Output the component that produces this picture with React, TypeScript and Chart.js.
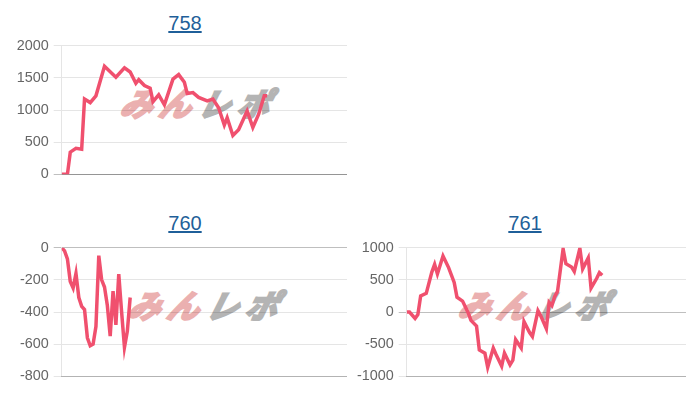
import React, { useEffect, useRef } from "react";
import { Chart, registerables } from "chart.js";

Chart.register(...registerables);

// ---- data ----
const titles = ["758", "760", "761"];

const games758 = [0, 2, 3, 5, 7, 8, 10, 12, 15, 19, 22, 24, 26, 27, 29, 31, 32, 34, 36, 39, 41, 43, 44, 46, 48, 51, 53, 55, 57, 58, 60, 62, 65, 67, 69, 71, 72];
const diff758 = [0, 0, 345, 405, 390, 1170, 1115, 1220, 1680, 1510, 1655, 1590, 1415, 1470, 1380, 1340, 1130, 1235, 1080, 1480, 1550, 1430, 1255, 1270, 1195, 1140, 1170, 1035, 765, 880, 605, 695, 985, 730, 930, 1220, 1220];

const games760 = [0, 1, 2, 3, 4, 5, 6, 7, 8, 9, 10, 11, 12, 13, 14, 15, 16, 17, 18, 19, 20, 21, 22, 23, 24];
const diff760 = [0, -20, -70, -210, -250, -160, -310, -365, -385, -560, -610, -600, -490, -50, -200, -245, -360, -550, -270, -480, -165, -400, -620, -520, -310];

const games761 = [0, 1, 3, 4, 5, 7, 9, 10, 11, 13, 15, 17, 18, 20, 22, 23, 25, 26, 28, 29, 31, 32, 34, 35, 37, 38, 39, 41, 42, 44, 45, 47, 48, 50, 51, 52, 53, 54, 56, 57, 59, 60, 62, 63, 65, 66, 68, 69, 70];
const diff761 = [0, 0, -100, -40, 250, 290, 620, 740, 590, 870, 690, 460, 230, 170, -10, -130, -220, -590, -640, -860, -560, -660, -840, -640, -820, -750, -430, -560, -150, -320, -380, 20, -60, -260, 150, 100, 240, 320, 980, 750, 700, 630, 990, 670, 840, 370, 520, 610, 570];

const yMins = [0, -800, -1000];
const yMaxs = [2000, 0, 1000];
const ySteps = [500, 200, 500];
const xMax = 100;

const FONT = "'Liberation Sans', Arial, Helvetica, sans-serif";
const LINE = "rgb(240, 80, 110)";

type Layout = {
  cellLeft: number;
  top: number;
  canvasLeft: number;
  canvasTop: number;
  canvasW: number;
  canvasH: number;
  axisW: number;
  wmLeft: number;
  wmTop: number;
};

function MiniChart(props: {
  title: string;
  xs: number[];
  ys: number[];
  yMin: number;
  yMax: number;
  step: number;
  lay: Layout;
}) {
  const ref = useRef<HTMLCanvasElement | null>(null);
  const { title, xs, ys, yMin, yMax, step, lay } = props;

  useEffect(() => {
    if (!ref.current) return;
    const chart = new Chart(ref.current, {
      type: "line",
      data: {
        datasets: [
          {
            data: xs.map((x, i) => ({ x, y: ys[i] })),
            borderColor: LINE,
            backgroundColor: LINE,
            borderWidth: 3.5,
            pointRadius: 0,
            tension: 0,
            fill: false,
          },
        ],
      },
      options: {
        animation: false,
        responsive: false,
        maintainAspectRatio: false,
        layout: { padding: 0 },
        plugins: { legend: { display: false }, tooltip: { enabled: false } },
        scales: {
          x: {
            type: "linear",
            min: 0,
            max: xMax,
            ticks: { display: false },
            grid: { display: false, drawTicks: false },
            border: { display: true, color: "rgba(0,0,0,0.22)" },
          },
          y: {
            min: yMin,
            max: yMax,
            ticks: {
              stepSize: step,
              color: "#666",
              padding: 5,
              font: { family: FONT, size: 14.4 },
              callback: (v: any) => String(v),
            },
            grid: {
              color: (ctx: any) =>
                ctx.tick && ctx.tick.value === 0 ? "rgba(0,0,0,0.25)" : "rgba(0,0,0,0.1)",
              tickLength: 8,
            },
            border: { color: "rgba(0,0,0,0.1)" },
            afterFit: (s: any) => {
              s.width = lay.axisW;
            },
          },
        },
      },
    } as any);
    return () => chart.destroy();
  }, []);

  return (
    <>
      <div
        style={{
          position: "absolute",
          left: lay.cellLeft,
          top: lay.top,
          width: 340,
          textAlign: "center",
          fontFamily: FONT,
          fontSize: 20,
        }}
      >
        <a href="#" style={{ color: "#1f5f99", textDecoration: "underline" }}>
          {title}
        </a>
      </div>
      <div
        style={{
          position: "absolute",
          left: lay.wmLeft,
          top: lay.wmTop,
          fontFamily: "'Noto Sans CJK JP', sans-serif",
          fontWeight: 700,
          fontStyle: "italic",
          fontSize: 32,
          letterSpacing: 7,
          lineHeight: "32px",
          whiteSpace: "nowrap",
          transform: "skewX(-14deg)",
        }}
      >
        <span style={{ color: "#ebb0b0", WebkitTextStroke: "2.5px #ebb0b0" } as any}>みん</span>
        <span style={{ color: "#b4b4b4", WebkitTextStroke: "2.5px #b4b4b4" } as any}>レポ</span>
      </div>
      <canvas
        ref={ref}
        width={lay.canvasW}
        height={lay.canvasH}
        style={{
          position: "absolute",
          left: lay.canvasLeft,
          top: lay.canvasTop,
          width: lay.canvasW,
          height: lay.canvasH,
        }}
      />
    </>
  );
}

const layouts: Layout[] = [
  { cellLeft: 15, top: 12, canvasLeft: 15, canvasTop: 32, canvasW: 332, canvasH: 156, axisW: 46.7, wmLeft: 122, wmTop: 86 },
  { cellLeft: 15, top: 212, canvasLeft: 15, canvasTop: 234, canvasW: 332, canvasH: 156, axisW: 46.7, wmLeft: 130, wmTop: 288 },
  { cellLeft: 355, top: 212, canvasLeft: 355, canvasTop: 234, canvasW: 331, canvasH: 156, axisW: 51.7, wmLeft: 460, wmTop: 288 },
];

export default function App() {
  const xsAll = [games758, games760, games761];
  const ysAll = [diff758, diff760, diff761];
  return (
    <div style={{ position: "absolute", left: 0, top: 0, width: 700, height: 400, background: "#fff" }}>
      {titles.map((t, i) => (
        <MiniChart
          key={t}
          title={t}
          xs={xsAll[i]}
          ys={ysAll[i]}
          yMin={yMins[i]}
          yMax={yMaxs[i]}
          step={ySteps[i]}
          lay={layouts[i]}
        />
      ))}
    </div>
  );
}
